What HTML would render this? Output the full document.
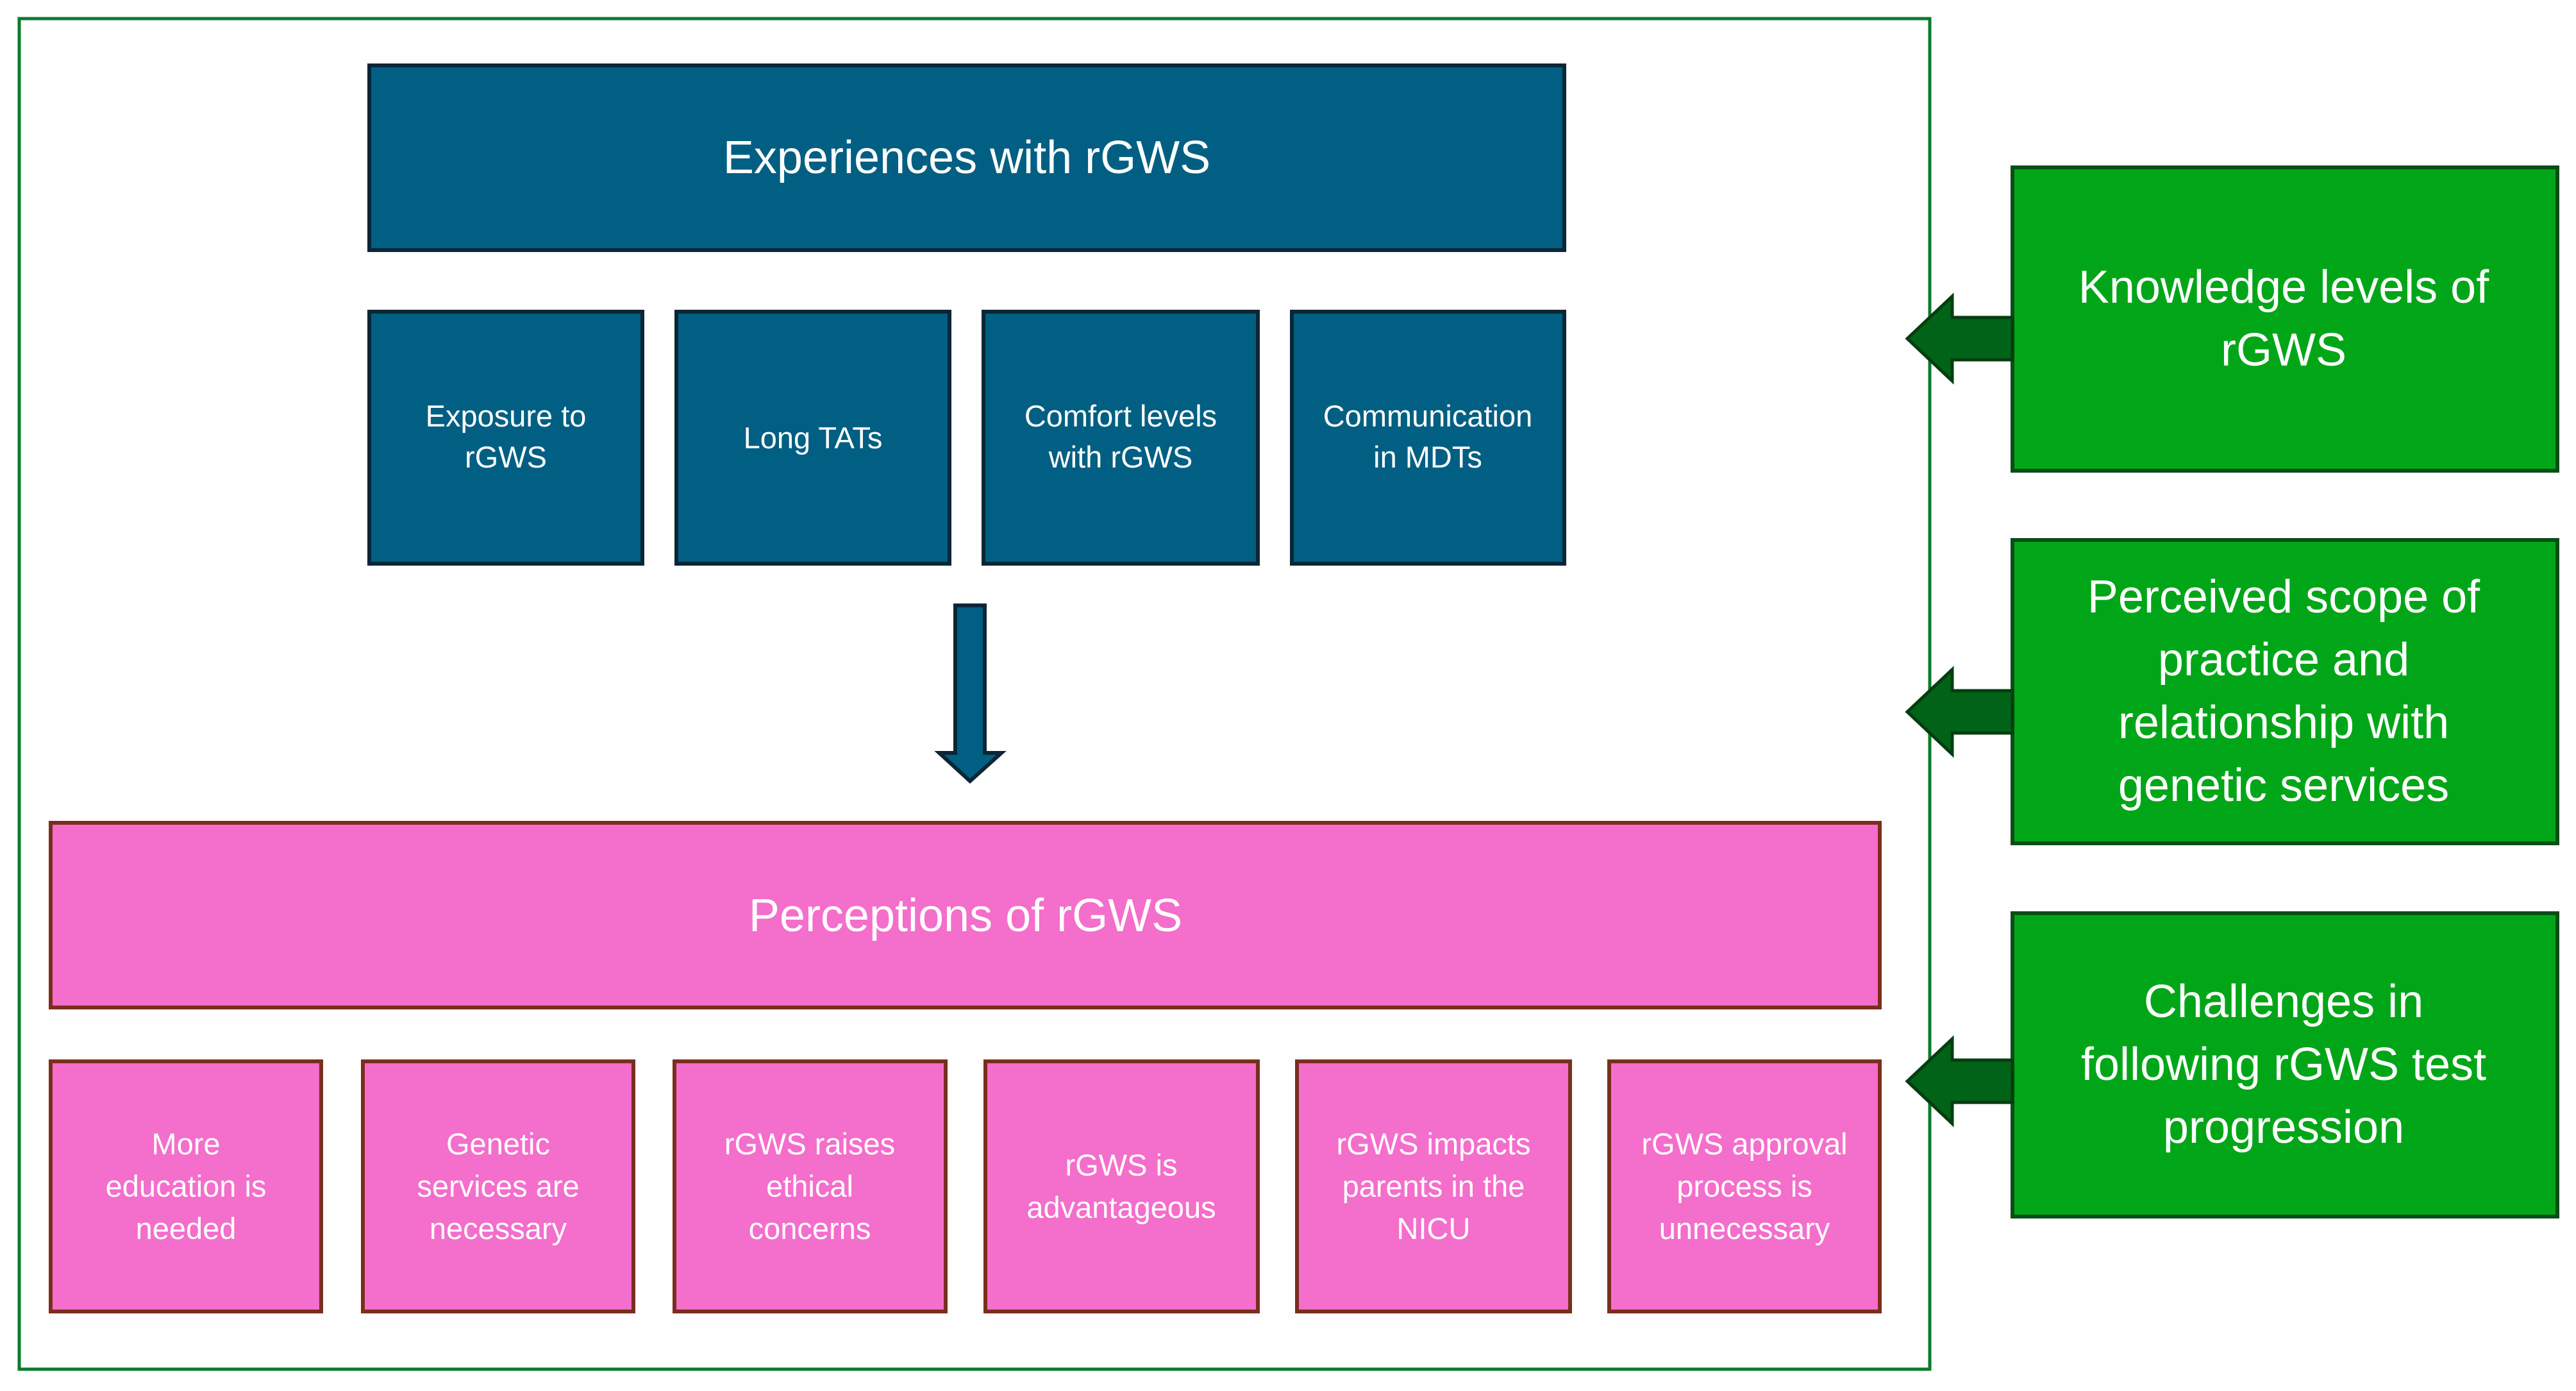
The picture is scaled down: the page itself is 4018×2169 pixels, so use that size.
<!DOCTYPE html>
<html><head><meta charset="utf-8"><style>html,body{margin:0;padding:0;background:#fff}svg{display:block}</style></head>
<body>
<svg width="4018" height="2169" viewBox="0 0 4018 2169" xmlns="http://www.w3.org/2000/svg" font-family="Liberation Sans, sans-serif" fill="#fff">
<rect x="0" y="0" width="4018" height="2169" fill="#fff"/>
<rect x="30" y="29" width="2980" height="2106" fill="none" stroke="#0c7a2c" stroke-width="5"/>
<!-- blue -->
<g stroke="#0b2636" stroke-width="6" fill="#005f82">
<rect x="576" y="102" width="1864" height="288"/>
<rect x="576" y="486" width="426" height="393"/>
<rect x="1055" y="486" width="426" height="393"/>
<rect x="1534" y="486" width="428" height="393"/>
<rect x="2015" y="486" width="425" height="393"/>
<polygon points="1490,944 1536,944 1536,1174 1562,1174 1513,1218 1465,1174 1490,1174"/>
</g>
<g font-size="72" text-anchor="middle"><text x="1508" y="270">Experiences with rGWS</text></g>
<g font-size="47" text-anchor="middle">
<text x="789" y="665">Exposure to</text><text x="789" y="729">rGWS</text>
<text x="1268" y="699">Long TATs</text>
<text x="1748" y="665">Comfort levels</text><text x="1748" y="729">with rGWS</text>
<text x="2227" y="665">Communication</text><text x="2227" y="729">in MDTs</text>
</g>
<!-- pink -->
<g stroke="#7a2e1e" stroke-width="6" fill="#f46ecb">
<rect x="79" y="1283" width="2853" height="288"/>
<rect x="79" y="1655" width="422" height="390"/>
<rect x="566" y="1655" width="422" height="390"/>
<rect x="1052" y="1655" width="423" height="390"/>
<rect x="1537" y="1655" width="425" height="390"/>
<rect x="2023" y="1655" width="426" height="390"/>
<rect x="2510" y="1655" width="422" height="390"/>
</g>
<g font-size="72" text-anchor="middle"><text x="1506" y="1452">Perceptions of rGWS</text></g>
<g font-size="47" text-anchor="middle">
<text x="290" y="1800">More</text><text x="290" y="1866">education is</text><text x="290" y="1932">needed</text>
<text x="777" y="1800">Genetic</text><text x="777" y="1866">services are</text><text x="777" y="1932">necessary</text>
<text x="1263" y="1800">rGWS raises</text><text x="1263" y="1866">ethical</text><text x="1263" y="1932">concerns</text>
<text x="1749" y="1833">rGWS is</text><text x="1749" y="1899">advantageous</text>
<text x="2236" y="1800">rGWS impacts</text><text x="2236" y="1866">parents in the</text><text x="2236" y="1932">NICU</text>
<text x="2721" y="1800">rGWS approval</text><text x="2721" y="1866">process is</text><text x="2721" y="1932">unnecessary</text>
</g>
<!-- green -->
<g stroke="#0b4d17" stroke-width="6" fill="#00a618">
<rect x="3139" y="261" width="850" height="473"/>
<rect x="3139" y="842" width="850" height="473"/>
<rect x="3139" y="1424" width="850" height="473"/>
</g>
<g stroke="#063d10" stroke-width="5" fill="#006317">
<polygon points="3139,495 3045,495 3045,462 2975,528 3045,594 3045,561 3139,561"/>
<polygon points="3139,1077 3045,1077 3045,1044 2975,1110 3045,1176 3045,1143 3139,1143"/>
<polygon points="3139,1653 3045,1653 3045,1620 2975,1686 3045,1752 3045,1719 3139,1719"/>
</g>
<g font-size="72" text-anchor="middle">
<text x="3562" y="472">Knowledge levels of</text><text x="3562" y="570">rGWS</text>
<text x="3562" y="955">Perceived scope of</text><text x="3562" y="1053">practice and</text><text x="3562" y="1151">relationship with</text><text x="3562" y="1249">genetic services</text>
<text x="3562" y="1586">Challenges in</text><text x="3562" y="1684">following rGWS test</text><text x="3562" y="1782">progression</text>
</g>
</svg>
</body></html>
